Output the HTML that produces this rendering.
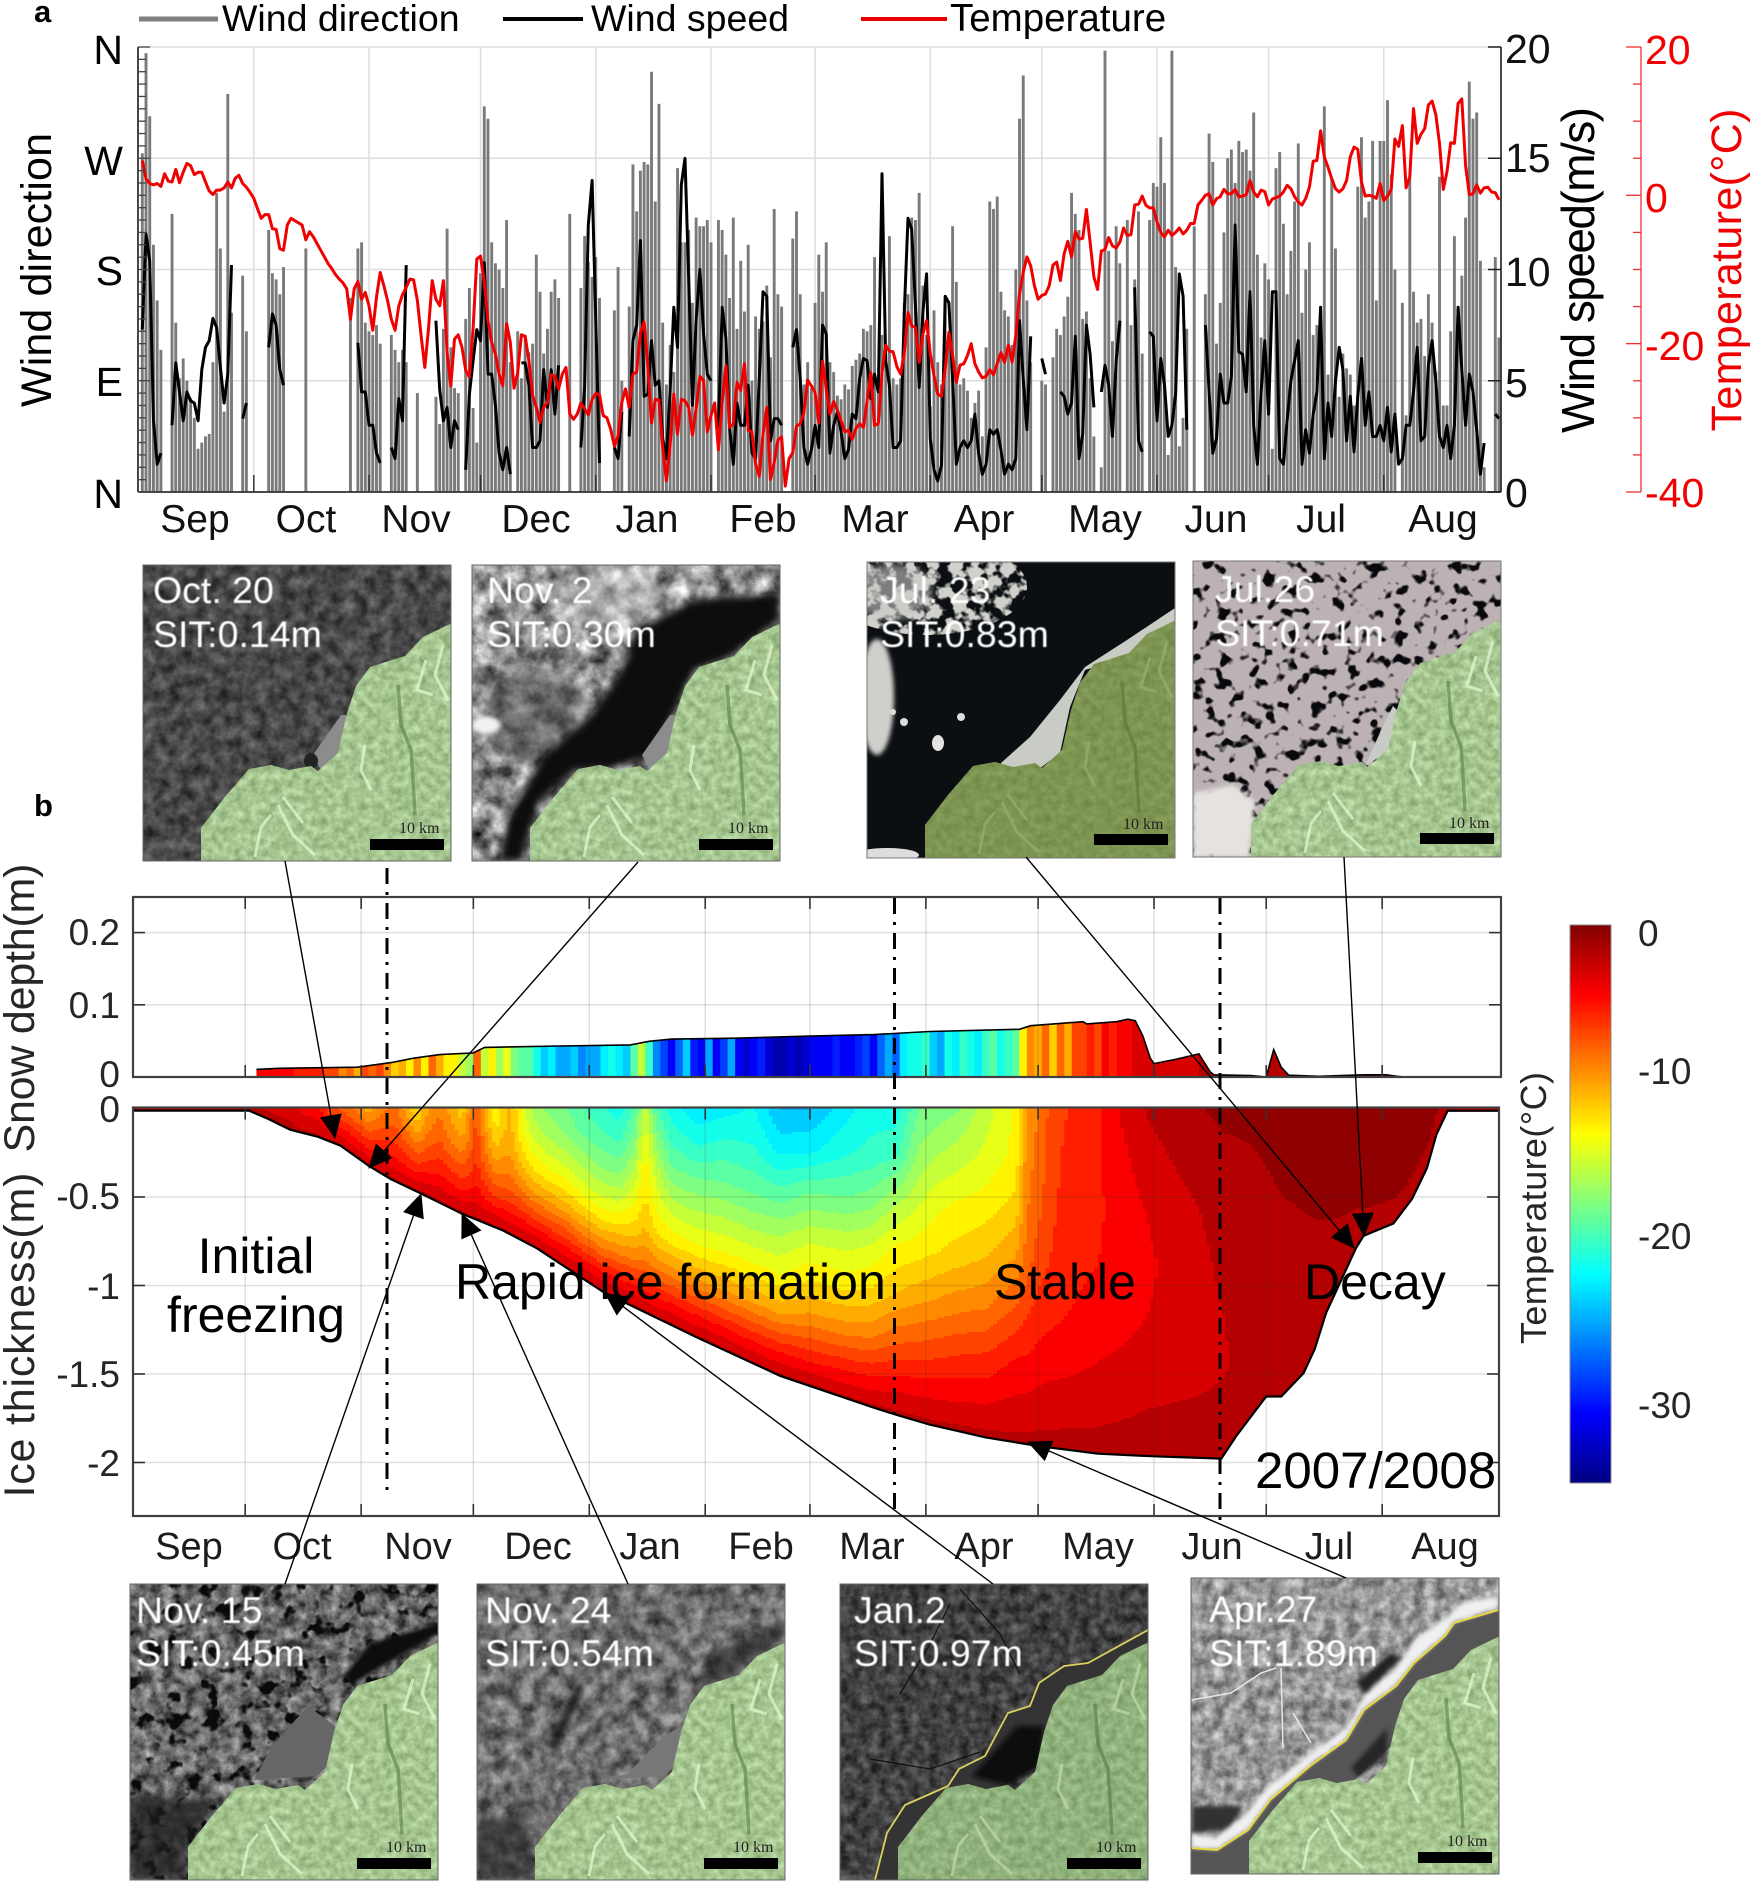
<!DOCTYPE html>
<html lang="en">
<head>
<meta charset="utf-8">
<title>Wind, temperature, snow depth and sea ice thickness 2007/2008</title>
<style>
html,body{margin:0;padding:0;background:#fff;width:1750px;height:1894px;overflow:hidden}
svg{display:block}
text{font-family:"Liberation Sans",sans-serif}
.lab{font-size:37.5px;fill:#fff;filter:url(#soft)}
.km{font-family:"Liberation Serif",serif;font-size:16px;fill:#222}
.mon{font-size:39px;fill:#111;text-anchor:middle}
.monb{font-size:38px;fill:#1c1c1c;text-anchor:middle}
.tk{font-size:41px;fill:#111}
.tkb{font-size:37px;fill:#262626;text-anchor:end}
.ann{font-size:50px;fill:#000}
</style>
</head>
<body>
<svg id="fig" xmlns="http://www.w3.org/2000/svg" width="1750" height="1894" viewBox="0 0 1750 1894">
<defs>
  <filter id="soft" x="-5%" y="-10%" width="110%" height="120%"><feGaussianBlur stdDeviation="0.45"/></filter>
  <filter id="b2" x="-30%" y="-30%" width="160%" height="160%"><feGaussianBlur stdDeviation="2"/></filter>
  <filter id="b5" x="-30%" y="-30%" width="160%" height="160%"><feGaussianBlur stdDeviation="4"/></filter>
  <filter id="b10" x="-40%" y="-40%" width="180%" height="180%"><feGaussianBlur stdDeviation="10"/></filter>
  <filter id="land-noise" x="0" y="0" width="100%" height="100%" color-interpolation-filters="sRGB"><feTurbulence type="fractalNoise" baseFrequency="0.13" numOctaves="3" seed="5"/><feColorMatrix type="matrix" values=".35 0 0 0 .475  .35 0 0 0 .6  .35 0 0 0 .39  0 0 0 0 1"/></filter>
  <filter id="t1" x="0" y="0" width="100%" height="100%" color-interpolation-filters="sRGB"><feTurbulence type="fractalNoise" baseFrequency="0.08" numOctaves="5" seed="2"/><feColorMatrix type="matrix" values=".45 0 0 0 .06  .45 0 0 0 .06  .45 0 0 0 .06  0 0 0 0 1"/></filter>
  <filter id="t2" x="0" y="0" width="100%" height="100%" color-interpolation-filters="sRGB"><feTurbulence type="fractalNoise" baseFrequency="0.05" numOctaves="5" seed="7"/><feColorMatrix type="matrix" values="1.3 0 0 0 -.08  1.3 0 0 0 -.08  1.3 0 0 0 -.08  0 0 0 0 1"/></filter>
  <filter id="t3" x="0" y="0" width="100%" height="100%" color-interpolation-filters="sRGB"><feTurbulence type="fractalNoise" baseFrequency="0.07" numOctaves="3" seed="21"/><feColorMatrix type="matrix" values="0 0 0 0 .82  0 0 0 0 .82  0 0 0 0 .8  7 0 0 0 -3"/></filter>
  <filter id="t4" x="0" y="0" width="100%" height="100%" color-interpolation-filters="sRGB"><feTurbulence type="fractalNoise" baseFrequency="0.085" numOctaves="2" seed="11"/><feColorMatrix type="matrix" values="0 0 0 0 .03  0 0 0 0 .03  0 0 0 0 .05  -8 0 0 0 3.55"/></filter>
  <filter id="t5" x="0" y="0" width="100%" height="100%" color-interpolation-filters="sRGB"><feTurbulence type="fractalNoise" baseFrequency="0.09" numOctaves="4" seed="4"/><feColorMatrix type="matrix" values=".8 0 0 0 .02  .8 0 0 0 .02  .8 0 0 0 .02  0 0 0 0 1"/></filter>
  <filter id="t5b" x="0" y="0" width="100%" height="100%" color-interpolation-filters="sRGB"><feTurbulence type="fractalNoise" baseFrequency="0.055" numOctaves="3" seed="8"/><feColorMatrix type="matrix" values="0 0 0 0 .04  0 0 0 0 .04  0 0 0 0 .04  -8 0 0 0 3.4"/></filter>
  <filter id="t6" x="0" y="0" width="100%" height="100%" color-interpolation-filters="sRGB"><feTurbulence type="fractalNoise" baseFrequency="0.07" numOctaves="5" seed="9"/><feColorMatrix type="matrix" values=".7 0 0 0 .08  .7 0 0 0 .08  .7 0 0 0 .08  0 0 0 0 1"/></filter>
  <filter id="t7" x="0" y="0" width="100%" height="100%" color-interpolation-filters="sRGB"><feTurbulence type="fractalNoise" baseFrequency="0.1" numOctaves="4" seed="13"/><feColorMatrix type="matrix" values=".45 0 0 0 .03  .45 0 0 0 .03  .45 0 0 0 .03  0 0 0 0 1"/></filter>
  <filter id="t8" x="0" y="0" width="100%" height="100%" color-interpolation-filters="sRGB"><feTurbulence type="fractalNoise" baseFrequency="0.09" numOctaves="4" seed="17"/><feColorMatrix type="matrix" values=".7 0 0 0 .24  .7 0 0 0 .24  .7 0 0 0 .24  0 0 0 0 1"/></filter>
  <clipPath id="img-clip"><rect width="308" height="296"/></clipPath>
  <clipPath id="land-clip"><polygon points="58,297 58,263 81,233 106,204 128,200 146,205 168,201 175,206 195,188 204,148 213,121 227,102 262,91 280,72 309,58 309,297"/></clipPath>
  <g id="land-art">
    <g clip-path="url(#land-clip)">
      <rect width="308" height="296" filter="url(#land-noise)"/>
      <g fill="none" stroke="#e2f6cc" stroke-width="3" opacity=".75">
        <polyline points="283,95 274,125 290,130"/><polyline points="300,80 292,110 305,135"/>
        <polyline points="222,180 218,205 228,225"/><polyline points="135,240 150,270 172,290"/>
        <polyline points="128,250 118,262 112,292"/><polyline points="140,232 160,258"/>
      </g>
      <g fill="none" stroke="#5f8a50" stroke-width="3.5" opacity=".7">
        <polyline points="255,120 258,160 268,185 270,215 272,250"/>
      </g>
    </g>
  </g>
  <linearGradient id="jet-gradient" x1="0" y1="0" x2="0" y2="1">
    <stop offset="0" stop-color="#800000"/><stop offset=".125" stop-color="#ff0000"/><stop offset=".375" stop-color="#ffff00"/><stop offset=".625" stop-color="#00ffff"/><stop offset=".875" stop-color="#0000ff"/><stop offset="1" stop-color="#000080"/>
  </linearGradient>
  <marker id="arrow-head" markerUnits="userSpaceOnUse" markerWidth="24" markerHeight="22" refX="23" refY="11" orient="auto"><path d="M0,0 L24,11 L0,22 Z" fill="#000"/></marker>
</defs>

<!-- panel labels and legend -->
<text x="34" y="22" font-size="31" font-weight="bold">a</text>
<text x="34" y="816" font-size="31" font-weight="bold">b</text>
<g>
  <line x1="139" y1="19" x2="218" y2="19" stroke="#808080" stroke-width="5"/>
  <text x="222" y="31" font-size="37.5">Wind direction</text>
  <line x1="503" y1="19" x2="583" y2="19" stroke="#000" stroke-width="4"/>
  <text x="591" y="31" font-size="37.5">Wind speed</text>
  <line x1="861" y1="19" x2="947" y2="19" stroke="#e60000" stroke-width="4"/>
  <text x="950" y="31" font-size="38.5">Temperature</text>
</g>

<!-- panel a chart layers -->
<g id="a-grid"></g>
<g id="a-bars"></g>
<path id="a-speed" fill="none" stroke="#000" stroke-width="3" stroke-linejoin="round"/>
<path id="a-temp" fill="none" stroke="#f00000" stroke-width="3" stroke-linejoin="round"/>
<g id="a-axes"></g>

<g text-anchor="end">
  <text x="123" y="64" font-size="41">N</text>
  <text x="123" y="175" font-size="41">W</text>
  <text x="123" y="285" font-size="41">S</text>
  <text x="123" y="396" font-size="41">E</text>
  <text x="123" y="508" font-size="41">N</text>
</g>
<text transform="translate(51,270) rotate(-90)" text-anchor="middle" font-size="43" textLength="274">Wind direction</text>
<g>
  <text class="tk" x="1505" y="63">20</text>
  <text class="tk" x="1505" y="172">15</text>
  <text class="tk" x="1505" y="286">10</text>
  <text class="tk" x="1505" y="397">5</text>
  <text class="tk" x="1505" y="507">0</text>
</g>
<text transform="translate(1594,270) rotate(-90)" text-anchor="middle" font-size="46" textLength="326">Wind speed(m/s)</text>
<g>
  <text class="tk" style="fill:#f00000" x="1645" y="64">20</text>
  <text class="tk" style="fill:#f00000" x="1645" y="212">0</text>
  <text class="tk" style="fill:#f00000" x="1645" y="360">-20</text>
  <text class="tk" style="fill:#f00000" x="1645" y="507">-40</text>
</g>
<text transform="translate(1741,270) rotate(-90)" text-anchor="middle" font-size="43" fill="#f00000" textLength="323">Temperature(°C)</text>
<g>
  <text class="mon" x="195" y="532">Sep</text>
  <text class="mon" x="306" y="532">Oct</text>
  <text class="mon" x="416" y="532">Nov</text>
  <text class="mon" x="536" y="532">Dec</text>
  <text class="mon" x="647" y="532">Jan</text>
  <text class="mon" x="763" y="532">Feb</text>
  <text class="mon" x="875" y="532">Mar</text>
  <text class="mon" x="984" y="532">Apr</text>
  <text class="mon" x="1105" y="532">May</text>
  <text class="mon" x="1216" y="532">Jun</text>
  <text class="mon" x="1321" y="532">Jul</text>
  <text class="mon" x="1443" y="532">Aug</text>
</g>

<!-- panel b chart layers -->
<g id="b-snow"></g>
<g id="b-ice"></g>
<g id="b-axes"></g>

<g>
  <text class="tkb" x="120" y="945">0.2</text>
  <text class="tkb" x="120" y="1018">0.1</text>
  <text class="tkb" x="120" y="1087">0</text>
</g>
<g>
  <text class="tkb" x="120" y="1122">0</text>
  <text class="tkb" x="120" y="1209">-0.5</text>
  <text class="tkb" x="120" y="1299">-1</text>
  <text class="tkb" x="120" y="1387">-1.5</text>
  <text class="tkb" x="120" y="1476">-2</text>
</g>
<text transform="translate(34,1008) rotate(-90)" text-anchor="middle" font-size="43" fill="#262626" textLength="289">Snow depth(m)</text>
<text transform="translate(34,1335) rotate(-90)" text-anchor="middle" font-size="43" fill="#262626" textLength="325">Ice thickness(m)</text>
<g>
  <text class="monb" x="189" y="1559">Sep</text>
  <text class="monb" x="302" y="1559">Oct</text>
  <text class="monb" x="418" y="1559">Nov</text>
  <text class="monb" x="538" y="1559">Dec</text>
  <text class="monb" x="650" y="1559">Jan</text>
  <text class="monb" x="761" y="1559">Feb</text>
  <text class="monb" x="872" y="1559">Mar</text>
  <text class="monb" x="984" y="1559">Apr</text>
  <text class="monb" x="1098" y="1559">May</text>
  <text class="monb" x="1212" y="1559">Jun</text>
  <text class="monb" x="1329" y="1559">Jul</text>
  <text class="monb" x="1445" y="1559">Aug</text>
</g>

<g stroke="#000" stroke-width="3" stroke-dasharray="16 8 3 8" fill="none">
  <line x1="387" y1="868" x2="387" y2="1497"/>
  <line x1="894.5" y1="898" x2="894.5" y2="1514"/>
  <line x1="1220" y1="898" x2="1220" y2="1520"/>
</g>

<g>
  <text class="ann" x="256" y="1273" text-anchor="middle">Initial</text>
  <text class="ann" x="256" y="1332" text-anchor="middle">freezing</text>
  <text class="ann" x="455" y="1299">Rapid ice formation</text>
  <text class="ann" x="994" y="1299">Stable</text>
  <text class="ann" x="1304" y="1299">Decay</text>
  <text class="ann" style="font-size:51px" x="1255" y="1488">2007/2008</text>
</g>

<!-- colour bar -->
<g>
  <rect x="1570" y="925" width="41" height="558" fill="url(#jet-gradient)" stroke="#8a8a8a" stroke-width="1"/>
  <text x="1638" y="946" font-size="37" fill="#262626">0</text>
  <text x="1638" y="1084" font-size="37" fill="#262626">-10</text>
  <text x="1638" y="1249" font-size="37" fill="#262626">-20</text>
  <text x="1638" y="1418" font-size="37" fill="#262626">-30</text>
  <text transform="translate(1546,1208) rotate(-90)" text-anchor="middle" font-size="36" fill="#262626" textLength="272">Temperature(°C)</text>
</g>

<!-- satellite images -->
<g transform="translate(143,565)">
  <g clip-path="url(#img-clip)">
    <rect width="308" height="296" filter="url(#t1)"/>
    <polygon points="178,205 170,190 198,150 205,150 198,188" fill="#8c8c8c"/>
    <ellipse cx="168" cy="196" rx="7" ry="8" fill="#222"/>
    <use href="#land-art"/>
    <rect x="227" y="274" width="74" height="11" fill="#000"/>
    <text class="km" x="256" y="268">10 km</text>
  </g>
  <rect width="308" height="296" fill="none" stroke="#666"/>
  <text class="lab" x="10" y="38">Oct. 20</text>
  <text class="lab" x="10" y="82">SIT:0.14m</text>
</g>
<g transform="translate(472,565)">
  <g clip-path="url(#img-clip)">
    <rect width="308" height="296" filter="url(#t2)"/>
    <ellipse cx="140" cy="30" rx="60" ry="28" fill="#d8d8d8" opacity=".45" filter="url(#b10)"/>
    <ellipse cx="60" cy="150" rx="55" ry="50" fill="#444" opacity=".5" filter="url(#b10)"/>
    <polygon points="161,68 219,35 308,28 308,55 259,92 223,105 201,152 179,192 134,205 103,205 67,238 49,297 27,297 36,252 71,192 121,148 152,102" fill="#0e0e0e" filter="url(#b5)"/>
    <ellipse cx="14" cy="160" rx="14" ry="9" fill="#f2f2f2" filter="url(#b2)"/>
    <polygon points="178,205 170,190 198,150 205,150 198,188" fill="#8c8c8c"/>
    <use href="#land-art"/>
    <rect x="227" y="274" width="74" height="11" fill="#000"/>
    <text class="km" x="256" y="268">10 km</text>
  </g>
  <rect width="308" height="296" fill="none" stroke="#666"/>
  <text class="lab" x="15" y="38">Nov. 2</text>
  <text class="lab" x="15" y="82">SIT:0.30m</text>
</g>
<g transform="translate(867,562)">
  <g clip-path="url(#img-clip)">
    <rect width="308" height="296" fill="#0b0f12"/>
    <clipPath id="cloud-clip"><ellipse cx="60" cy="25" rx="100" ry="48"/></clipPath>
    <g clip-path="url(#cloud-clip)"><rect width="170" height="80" filter="url(#t3)"/></g>
    <ellipse cx="25" cy="30" rx="40" ry="28" fill="#c8c8c4" opacity=".6" filter="url(#b5)"/>
    <ellipse cx="10" cy="135" rx="17" ry="58" fill="#cfcfcb" filter="url(#b2)"/>
    <ellipse cx="71" cy="181" rx="6" ry="8" fill="#e2e2de"/>
    <circle cx="37" cy="160" r="4" fill="#ddd"/><circle cx="94" cy="155" r="4" fill="#ddd"/><circle cx="26" cy="150" r="3" fill="#ddd"/>
    <ellipse cx="20" cy="293" rx="32" ry="7" fill="#ddd"/>
    <polygon points="134,201 163,175 193,138 218,105 260,78 308,46 308,60 260,95 218,108 203,145 193,191 172,207 134,207" fill="#c9cbc5"/>
    <use href="#land-art"/>
    <polygon points="58,297 58,263 81,233 106,204 128,200 146,205 168,201 175,206 195,188 204,148 213,121 227,102 262,91 280,72 309,58 309,297" fill="#5c6e1e" opacity=".55"/>
    <rect x="227" y="272" width="74" height="11" fill="#000"/>
    <text class="km" x="256" y="267">10 km</text>
  </g>
  <rect width="308" height="296" fill="none" stroke="#777"/>
  <text class="lab" x="13" y="41">Jul. 23</text>
  <text class="lab" x="13" y="85">SIT:0.83m</text>
</g>
<g transform="translate(1193,561)">
  <g clip-path="url(#img-clip)">
    <rect width="308" height="296" fill="#bcb2b4"/>
    <rect width="308" height="296" filter="url(#t4)"/>
    <polygon points="0,232 40,224 62,240 56,296 0,296" fill="#e6e2e0" filter="url(#b2)"/>
    <polygon points="172,205 190,165 200,145 205,150 196,190" fill="#c8cac6"/>
    <use href="#land-art"/>
    <rect x="227" y="272" width="74" height="11" fill="#000"/>
    <text class="km" x="256" y="267">10 km</text>
  </g>
  <rect width="308" height="296" fill="none" stroke="#777"/>
  <text class="lab" x="22" y="41">Jul.26</text>
  <text class="lab" x="22" y="85">SIT:0.71m</text>
</g>
<g transform="translate(130,1584)">
  <g clip-path="url(#img-clip)">
    <rect width="308" height="296" filter="url(#t5)"/>
    <rect width="308" height="296" filter="url(#t5b)"/>
    <polygon points="213,92 240,59 308,39 308,50 267,74 222,101" fill="#0a0a0a" filter="url(#b2)"/>
    <polygon points="0,209 88,216 57,262 57,296 0,296" fill="#1a1a1a" opacity=".75" filter="url(#b5)"/>
    <polygon points="124,196 187,192 205,175 205,142 178,122 142,162" fill="#666"/>
    <use href="#land-art"/>
    <rect x="227" y="274" width="74" height="11" fill="#000"/>
    <text class="km" x="256" y="268">10 km</text>
  </g>
  <rect width="308" height="296" fill="none" stroke="#666"/>
  <text class="lab" x="6" y="39">Nov. 15</text>
  <text class="lab" x="6" y="82">SIT:0.45m</text>
</g>
<g transform="translate(477,1584)">
  <g clip-path="url(#img-clip)">
    <rect width="308" height="296" filter="url(#t6)"/>
    <polygon points="230,70 308,35 308,52 262,88 224,104" fill="#222" opacity=".6" filter="url(#b5)"/>
    <polygon points="0,240 50,225 58,296 0,296" fill="#222" opacity=".6" filter="url(#b5)"/>
    <polygon points="70,160 100,100 108,102 78,170" fill="#111" opacity=".7" filter="url(#b2)"/>
    <polygon points="124,196 187,192 205,175 205,142 190,150 150,190" fill="#777"/>
    <use href="#land-art"/>
    <rect x="227" y="274" width="74" height="11" fill="#000"/>
    <text class="km" x="256" y="268">10 km</text>
  </g>
  <rect width="308" height="296" fill="none" stroke="#666"/>
  <text class="lab" x="8" y="39">Nov. 24</text>
  <text class="lab" x="8" y="82">SIT:0.54m</text>
</g>
<g transform="translate(840,1584)">
  <g clip-path="url(#img-clip)">
    <rect width="308" height="296" filter="url(#t7)"/>
    <polygon points="35,296 47,249 65,221 108,202 119,185 145,172 168,129 190,122 199,99 224,82 248,79 308,46 308,70 60,296" fill="#343434"/>
    <polygon points="168,202 199,182 204,142 177,142 132,192" fill="#0d0d0d" filter="url(#b2)"/>
    <g fill="none" stroke="#111" stroke-width="1.3"><polyline points="120,5 160,50 180,90"/><polyline points="60,110 90,60 110,20"/><polyline points="30,175 90,185 140,168"/></g>
    <use href="#land-art"/>
    <polygon points="58,297 58,263 81,233 106,204 128,200 146,205 168,201 175,206 195,188 204,148 213,121 227,102 262,91 280,72 309,58 309,297" fill="#3e6a34" opacity=".22"/>
    <polyline points="35,296 47,249 65,221 108,202 119,185 145,172 168,129 190,122 199,99 224,82 248,79 308,46" fill="none" stroke="#d9d060" stroke-width="1.8"/>
    <rect x="227" y="274" width="74" height="11" fill="#000"/>
    <text class="km" x="256" y="268">10 km</text>
  </g>
  <rect width="308" height="296" fill="none" stroke="#666"/>
  <text class="lab" x="14" y="39">Jan.2</text>
  <text class="lab" x="14" y="82">SIT:0.97m</text>
</g>
<g transform="translate(1191,1578)">
  <g clip-path="url(#img-clip)">
    <rect width="308" height="296" filter="url(#t8)"/>
    <polygon points="0,270 26,272 57,252 79,222 119,188 155,162 173,132 205,108 223,85 254,58 263,45 308,32 308,70 60,296 0,296" fill="#555"/>
    <polygon points="1,228 52,228 40,250 1,256" fill="#333" filter="url(#b2)"/>
    <polygon points="0,255 25,260 55,235 75,210 120,175 155,150 175,115 205,90 225,60 255,40 270,25 308,18 308,30 263,44 254,57 223,84 205,107 173,131 155,161 119,187 79,221 57,251 26,271 0,270" fill="#f0f0f0" filter="url(#b2)"/>
    <polygon points="165,105 200,75 210,80 175,115" fill="#222" filter="url(#b2)"/>
    <polygon points="168,200 196,175 196,150 160,190" fill="#262626" filter="url(#b2)"/>
    <g fill="none" stroke="#e8e8e8" stroke-width="1.5"><polyline points="0,122 40,115 70,95 85,90"/><polyline points="90,90 92,170"/><polyline points="102,135 120,165"/></g>
    <use href="#land-art"/>
    <polyline points="1,270 26,272 57,252 79,222 119,188 155,162 173,132 205,108 223,85 254,58 263,45 307,32" fill="none" stroke="#e8d840" stroke-width="2"/>
    <rect x="227" y="274" width="74" height="11" fill="#000"/>
    <text class="km" x="256" y="268">10 km</text>
  </g>
  <rect width="308" height="296" fill="none" stroke="#666"/>
  <text class="lab" x="18" y="44">Apr.27</text>
  <text class="lab" x="18" y="88">SIT:1.89m</text>
</g>

<!-- arrows from images to the ice bottom -->
<g stroke="#000" stroke-width="1.4" fill="none">
  <line x1="285" y1="861" x2="335" y2="1138" marker-end="url(#arrow-head)"/>
  <line x1="638" y1="862" x2="369" y2="1168" marker-end="url(#arrow-head)"/>
  <line x1="285" y1="1584" x2="421" y2="1194" marker-end="url(#arrow-head)"/>
  <line x1="628" y1="1584" x2="462" y2="1214" marker-end="url(#arrow-head)"/>
  <line x1="993" y1="1584" x2="605" y2="1293" marker-end="url(#arrow-head)"/>
  <line x1="1346" y1="1578" x2="1028" y2="1442" marker-end="url(#arrow-head)"/>
  <line x1="1026" y1="857" x2="1354" y2="1248" marker-end="url(#arrow-head)"/>
  <line x1="1344" y1="857" x2="1364" y2="1236" marker-end="url(#arrow-head)"/>
</g>
</svg>

<script>
// Wind direction in degrees per day from 1 Sep (0 = no observation)
var windDirection = [
274,355,304,200,155,115,0,0,225,137,
92,108,90,76,60,35,40,45,47,105,
242,197,65,322,145,0,0,175,130,0,
0,0,0,0,212,177,172,160,182,0,
0,0,0,0,197,0,0,0,0,0,
0,0,0,0,0,0,157,0,197,202,
137,130,127,135,120,0,0,127,115,105,
115,105,0,0,80,0,0,0,0,77,
55,132,213,117,84,80,0,140,165,68,
40,177,312,302,202,185,180,165,220,105,
0,130,92,127,113,120,192,162,112,132,
162,172,157,0,0,225,0,0,165,207,
186,174,190,157,0,0,0,147,182,90,
0,150,265,227,260,267,265,340,235,314,
137,87,119,97,262,202,202,212,153,222,
215,215,220,202,0,220,212,192,157,222,
132,187,146,200,90,142,132,138,167,109,
229,160,150,0,0,205,227,160,87,105,
84,153,192,162,202,105,97,78,75,87,
83,102,107,112,132,130,135,190,92,127,
120,207,92,87,92,153,160,222,220,242,
167,127,69,147,105,87,157,130,215,170,
87,92,82,60,72,82,45,117,235,229,
239,162,147,142,119,180,302,337,155,105,
0,0,90,87,0,109,132,127,142,158,
242,225,212,140,146,92,45,0,20,357,
195,122,215,185,0,220,135,172,227,112,
0,220,250,247,287,250,30,357,182,37,
60,132,0,215,0,0,160,290,267,120,
153,210,270,277,250,284,275,277,260,307,
192,125,185,172,35,262,275,217,160,195,
235,282,145,180,202,127,135,148,312,95,
254,197,77,112,100,95,70,247,287,222,
235,284,155,284,284,317,257,180,0,153,
62,255,162,137,140,110,160,137,97,255,
70,70,130,207,149,175,222,332,302,307,
187,20,0,0,190,125];

// Wind speed (m/s) per day; null = gap in the record
var windSpeed = [
7.3,11.6,10.4,3.2,1.25,1.75,null,null,3,5.8,
4.5,3.2,4.5,4.1,4,3.2,5.5,6.5,6.8,7.8,
7.4,5.6,4,5.3,10.2,null,null,3.3,4,null,
null,null,null,null,6.5,8,7.5,5.5,4.8,null,
null,null,null,null,null,null,null,null,null,null,
null,null,null,null,null,null,null,null,6.7,4.5,
4.5,3,3,1.75,1.3,null,null,2,1.5,4.2,
3.2,10.2,null,null,null,null,null,null,null,7.7,
4.6,3.2,3.8,2,3.2,2.8,null,1,4.4,5.9,
7.3,6.8,10.3,5.3,5.3,3.9,1.75,1,2,0.8,
null,null,5.8,5.8,4.8,2,2,2.3,5.5,3.8,
5.5,3.5,5.7,null,null,null,null,null,2,4.7,
12,14,7.7,1.3,null,null,null,2,1.5,3.6,
null,2.5,6.8,7.5,11.3,4.3,4.4,6.8,4.8,5,
2.4,1.5,4.5,8.3,6.5,13.8,15,9.6,3.9,7.7,
10,7.1,5.3,5,null,2.9,8.3,6.9,2.9,1.25,
4,3,3,4.8,1.75,1.5,5.1,9,8.8,2.3,
3.3,3.3,3,null,null,6.5,7.3,5.1,2,1.25,
1.9,3,2,7.5,7.1,1.75,3,3.6,2.7,1.5,
1.9,3.5,3.3,5.1,6,5.9,4.2,5.3,4.5,14.3,
5.9,4.8,2,2,2.3,8.1,12.3,11.8,8.4,4.7,
8.1,9.8,2.4,1,0.5,1.2,8.8,8.5,5.1,1.25,
2,2.3,2,2.3,3.5,1.75,0.8,1.25,2.8,2.6,
2.8,1.9,0.8,1.25,1,1.5,7.7,5.1,2.8,7,
null,null,6,5.3,null,null,null,4.5,4.3,3.5,
4,7,1.5,2.6,7.5,6.2,3.8,null,4.5,5.7,
4.8,2.5,5.9,7.7,null,null,null,9.2,2.3,1.8,
null,7.2,7,3.2,6,4.8,2.5,3,4.4,9.8,
8.8,2.8,null,null,null,null,7.5,4.5,1.75,2.4,
5.3,4,4,5.2,12,6.3,6.2,4.5,9,3,
1.25,4.5,6.8,3.5,9,9,1.5,1.25,3.2,5,
5.9,6.8,1.25,2.8,1.75,3.5,4.5,8.3,1.5,4,
2.5,5,6.5,5.5,2.3,4.3,1.8,4.3,6,3,
4.5,2.5,2.5,3,2.3,3.8,1.8,3.5,1.25,1.5,
3,3,4.5,6.5,2.3,2.5,5.7,6.8,5,2.5,
2,3,1.5,3,8.3,5.5,3,5.3,4.5,2.8,
0.8,2.2,null,null,3.5,3.3];

// Air temperature (°C) per day
var airTemperature = [
4.7,2.2,1.6,1.4,1.6,1.2,2.9,1.9,1.8,3.5,
1.7,3.1,4.3,4,2.8,3.1,3.1,1.8,0.6,0.1,
0.7,0.7,1,1.8,1,2.3,2.7,1.6,1.1,0.4,
-0.4,-1.8,-3.1,-2.6,-2.6,-4.5,-4.6,-7.2,-7.4,-4,
-3.1,-3.4,-3.7,-4,-6,-4.9,-5.6,-6.5,-7.4,-8.3,
-9.2,-9.9,-10.7,-11.3,-11.8,-12.6,-16.7,-12.6,-11.6,-14,
-13.1,-14.9,-18.2,-13.7,-10.4,-12.2,-14.2,-16.7,-18.2,-14.9,
-13.4,-12.4,-11.3,-11.4,-14.2,-18.9,-23.2,-18,-11.5,-14,
-14.9,-11.5,-21.2,-25.7,-19.4,-18.8,-20.5,-23.6,-24.5,-18,
-8.6,-8.2,-11.7,-16.9,-19.8,-21.4,-24.1,-25.7,-17.3,-19.8,
-26,-23.9,-18.8,-19,-22.3,-27,-28.6,-30.6,-28.6,-27.9,
-24.2,-24.4,-26.1,-24.1,-23.2,-29.5,-30.2,-29.5,-28,-28.8,
-29.6,-27.5,-26.7,-26.9,-29.7,-30,-31.5,-33.8,-32.4,-27.9,
-26.1,-28.6,-24.1,-23.8,-18.5,-17.1,-23,-30.7,-27.5,-27.6,
-34,-38.5,-33.8,-26.8,-32.2,-27.5,-27.7,-28.6,-32.3,-28.8,
-24.4,-25,-31.9,-29.7,-28,-34.3,-27.9,-23,-31.3,-30.8,
-25.2,-26.3,-22.7,-31.7,-31.9,-36.2,-37.9,-32.2,-28.6,-38.3,
-36,-33,-32.6,-39.2,-35.5,-34.7,-31.1,-30.8,-29.3,-24.9,
-25.7,-26.6,-30.7,-22.4,-26.1,-29.5,-27.8,-29,-30.4,-31.9,
-31.7,-32.9,-31.4,-30.8,-31.3,-27.7,-23.9,-31,-30.8,-23.9,
-20.2,-21,-21.1,-23.1,-24.1,-21.2,-15.8,-17.6,-17.8,-22.5,
-18.7,-16.9,-21.4,-24.3,-26.8,-27.1,-23.4,-18.5,-21.6,-25.2,
-22.9,-22.7,-21.6,-20,-22.7,-23.8,-24.6,-24.4,-23.5,-24.2,
-22.7,-21.2,-22.5,-20.2,-22.5,-18.9,-13.3,-10.4,-8.3,-9.5,
-12.2,-14,-13.5,-13.3,-12.2,-9.4,-9,-11.5,-7.9,-6.2,
-8.3,-4.9,-5.9,-5.8,-1.9,-6.3,-11,-12.7,-7.5,-7.3,
-5.7,-6.8,-7.1,-6.3,-4.4,-5.4,-5.3,-1.3,-1.2,-0.1,
-1.35,-1.7,-1.7,-3.6,-5,-5.6,-4.7,-5.4,-5,-4.4,
-5.2,-4.7,-3.8,-3.8,-1.3,-0.7,0,0.2,-1.3,-0.45,
-0.2,0.8,0.2,0.2,0.8,-0.2,-0.1,0.1,2,0.45,
-0.2,0.7,0.5,-1.3,-0.5,-0.3,-0.1,0.45,1.35,0.9,
-0.2,-0.9,-1.3,-0.4,1.1,4.6,4.7,8.7,5.2,3.8,
2.25,0.9,0.45,0.9,2,5.2,6.5,6.2,1.8,-0.1,
0,-0.1,-0.4,1.6,-0.7,-0.1,0.8,7.6,6.6,9.4,
1,2.5,11.7,7,8.2,9,12.2,12.7,10.9,7,
0.8,3.2,7.1,7,12.4,13,4,0.1,0.2,1.4,
0.3,1,1.1,0.45,0.35,-0.6];

// Day-of-season for each month boundary
var monthStartDays = [30,61,91,122,153,181,212,242,273,303,334];

// Snow depth (m)
var snowDays = [33,39,60,69,75,82,91,94,114,133,138,144,161,181,198,213,237,240,254,255,263,266,268,270,272,273,279,285,288,289,299,303,305,307,309,317,329,335,338,340];
var snowDepth = [0.0105,0.012,0.0136,0.02,0.026,0.031,0.0334,0.041,0.043,0.0445,0.0494,0.0525,0.0538,0.0568,0.0587,0.063,0.066,0.071,0.0766,0.0735,0.0766,0.08,0.078,0.057,0.026,0.0185,0.0247,0.032,0.0074,0.003,0.002,0,0.038,0.0136,0.0025,0.001,0.003,0.003,0.001,0];

// Snow temperature (°C) at two-day spacing
var snowTempStartDay = 33;
var snowTempStepDays = 2;
var snowTemps = [
-4,-4,-4,-4.5,-4.5,-5,-5,-5.5,-5,-6,
-7,-9,-8,-10,-7,-8,-7,-9,
-11,-10,-12,-9,-12,-8,-10,-13,-12,-15,-16,
-8,-15,-13,-16,-14,-17,-18,
-19,-21,-23,-22,-25,-24,-23,-26,-25,-24,-22,-21,-22,-23,
-19,-15,-20,-26,-28,
-30,-27,-23,-29,-30,-24,-31,-28,-24,-30,-32,-31,-29,-32,-33,-33,-32,-33,-32,
-31,-30,-31,-29,-30,-31,-29,-28,-30,-27,-24,-27,
-22,-21,-21,-20,-23,-25,
-21,-22,-20,-21,-22,-20,-19,-21,-20,-18,
-12,-9,-10,-8,-11,-8,-10,-7,
-7,-5,-6,-4.5,-5,-4,-4,-3.5,
-3,-2.5,-3,-3.5,-3,-3,-2.8,-2.5,-2,-2,
-1.5,-1.5,-1.5,-1.5,-1.5,-1.5,-1.5,-1.5,-1.5,-1.5,-1.5,-1.5];

// Ice thickness (m)
var iceDays = [0,30,31,36,42,49.5,55.5,63,69,77,88,99,108,126,151,173,198,204,213,228,242,258,273,291,295,300,303,307,313,316,319,327,329,337,342,346,348.5,351.5,365];
var iceThickness = [0.012,0.012,0.012,0.057,0.12,0.16,0.21,0.323,0.40,0.48,0.595,0.69,0.79,1.04,1.295,1.51,1.69,1.73,1.786,1.858,1.907,1.95,1.965,1.978,1.85,1.71,1.627,1.627,1.495,1.358,1.155,0.788,0.72,0.65,0.51,0.336,0.147,0.013,0.013];

// Ice temperature field (°C): one row per column day, values at iceTempDepths (fraction of thickness)
var iceTempDepths = [0,0.15,0.3,0.45,0.6,0.75,0.9,1];
var iceTempDays = [31,36,42,46,50,53,57,63,67,70,73,76,79,82,85,88,92,94,97,99,101,104,107,111,116,120,125,130,134,137,140,144,151,158,166,173,181,191,197,204,210,215,220,228,236,239,242,246,250,258,264,271,280,291,300,310,320,330,340,346,351];
var iceTemps = [
[-2,-2,-2,-2,-2,-2,-2,-2],
[-2.5,-2.4,-2.3,-2.2,-2.1,-2,-2,-2],
[-3,-2.9,-2.7,-2.5,-2.3,-2.2,-2,-1.9],
[-4,-3.7,-3.4,-3.1,-2.8,-2.5,-2.2,-2],
[-4.5,-4.2,-3.8,-3.4,-3,-2.6,-2.2,-2],
[-7,-6.4,-5.6,-4.8,-4,-3.2,-2.4,-2],
[-7.5,-7,-6,-5.2,-4.3,-3.4,-2.5,-2],
[-10,-9,-7.8,-6.6,-5.4,-4.2,-2.8,-2],
[-8.5,-8,-7,-6,-5,-4,-2.8,-2],
[-8,-7.5,-6.7,-5.9,-5,-4,-2.8,-2],
[-10,-9,-8,-7,-5.8,-4.5,-3,-2],
[-12,-11,-9.5,-8,-6.5,-4.8,-3,-2],
[-9.5,-9,-8,-7,-5.8,-4.4,-3,-2],
[-8.5,-8,-7.3,-6.4,-5.4,-4.2,-2.9,-2],
[-10,-9.4,-8.5,-7.4,-6,-4.6,-3,-2],
[-11.5,-10.5,-9.5,-8,-6.6,-5,-3.1,-2],
[-7,-6.8,-6.5,-6,-5.2,-4.2,-3,-2],
[-10,-9.4,-8.6,-7.6,-6.4,-5,-3.2,-2],
[-13,-12.2,-11,-9.4,-7.8,-5.8,-3.4,-2],
[-11.5,-11,-10.2,-9,-7.6,-5.8,-3.4,-2],
[-10.5,-10.5,-10,-9,-7.6,-5.8,-3.4,-2],
[-13.5,-13,-12,-10.5,-8.5,-6.2,-3.5,-2],
[-16,-15,-13.5,-11.8,-9.5,-6.8,-3.7,-2],
[-17,-16,-14.5,-12.5,-10,-7,-3.8,-2],
[-18,-17,-15.2,-13,-10.5,-7.2,-3.9,-2],
[-19,-18,-16,-14,-11.3,-8,-4,-2],
[-20,-18.8,-17,-14.8,-12,-8.4,-4.2,-2],
[-21,-19.5,-17.5,-15,-12,-8.5,-4.2,-2],
[-19,-17.5,-15.5,-13.5,-11.5,-8.5,-4.3,-2],
[-15,-13.5,-12.5,-11.8,-10.5,-8.2,-4.3,-2],
[-19,-17,-15,-13.5,-11.8,-8.8,-4.5,-2],
[-21,-19.5,-17.5,-15,-12.5,-9,-4.6,-2],
[-22.5,-20.5,-18,-15.5,-13,-9.3,-4.7,-2],
[-22,-20,-18,-15.5,-13,-9.5,-4.8,-2],
[-21.5,-20.3,-18.5,-16,-13.2,-9.8,-5,-2],
[-24,-22,-19,-16,-13.5,-10,-5,-2],
[-24,-21.8,-18,-15,-12.3,-9.2,-5,-2],
[-22,-20.5,-18,-15,-12.5,-9.2,-4.8,-2],
[-21,-20,-17.5,-14.5,-12,-8.8,-4.6,-2],
[-21,-19.5,-15.8,-13,-10.8,-7.5,-4,-2],
[-18,-16.5,-14.5,-12.5,-10,-7,-3.9,-2],
[-17.5,-15.5,-13.5,-12,-9.5,-6.6,-3.8,-2],
[-17,-15,-13,-11.5,-9,-6.2,-3.7,-2],
[-15,-14,-12.5,-10.8,-8.5,-5.8,-3.5,-2],
[-13,-12.8,-11.5,-9.5,-7,-4.7,-3.1,-2],
[-9,-9,-8.5,-7.8,-6.2,-4.6,-3,-2],
[-8.5,-8,-7.5,-6.6,-5.5,-4.3,-2.8,-2],
[-6.5,-6.3,-6.2,-5.8,-5.1,-4,-2.7,-2],
[-6,-5.7,-5.5,-5.2,-4.8,-3.9,-2.6,-2],
[-5,-5,-5,-4.8,-4.3,-3.5,-2.5,-2],
[-3.5,-4,-4.3,-4.3,-4,-3.3,-2.4,-1.9],
[-2.3,-3,-3.6,-3.8,-3.6,-3,-2.2,-1.8],
[-1.5,-2.2,-2.9,-3.2,-3.2,-2.8,-2.1,-1.8],
[-1,-1.5,-1.9,-2.2,-2.45,-2.45,-2.1,-1.8],
[-0.9,-1.25,-1.5,-1.8,-2.1,-2.2,-2,-1.8],
[-0.7,-0.8,-1.1,-1.5,-1.9,-2.1,-2,-1.8],
[-0.7,-0.7,-0.8,-1,-1.3,-1.8,-2,-1.8],
[-0.7,-0.7,-0.7,-0.8,-0.9,-1.1,-1.6,-1.8],
[-0.7,-0.7,-0.8,-0.9,-1,-1.15,-1.6,-1.8],
[-0.8,-0.8,-0.9,-1,-1.2,-1.5,-1.7,-1.8],
[-1.5,-1.6,-1.7,-1.8,-1.8,-1.8,-1.8,-1.8]];

var windTicks = [0,5,10,15,20];
var tempTicks = [20,15,10,5,0,-5,-10,-15,-20,-25,-30,-35,-40];
var snowTicks = [0.1,0.2];
var iceTicks = [-0.5,-1,-1.5,-2];

var NS = 'http://www.w3.org/2000/svg';
function svgEl(tag, attrs, parent){
  var el = document.createElementNS(NS, tag);
  for (var k in attrs) el.setAttribute(k, attrs[k]);
  parent.appendChild(el);
  return el;
}

// axis functions — panel a
function xA(day){ return 142.3 + 3.717 * day; }
function yDir(deg){ return 492 - deg * 445 / 360; }
function ySpeed(v){ return 492 - v * 445 / 20; }
function yTemp(t){ return 47 + (20 - t) * 445 / 60; }
// axis functions — panel b
function xB(day){ return 133 + 3.74 * day; }
function ySnow(m){ return 1077 - m * 722; }
function yIce(m){ return 1108.5 + m * 177; }

function lerp(xs, ys, x){
  if (x <= xs[0]) return ys[0];
  for (var i = 1; i < xs.length; i++){
    if (x <= xs[i]){
      var f = (x - xs[i-1]) / (xs[i] - xs[i-1]);
      return ys[i-1] + f * (ys[i] - ys[i-1]);
    }
  }
  return ys[ys.length - 1];
}
function clamp01(v){ return Math.max(0, Math.min(1, v)); }
var BAND = 1.2;
function bandOf(t){ return Math.floor(-t / BAND); }
function bandColor(b){
  var t = -(b + 0.5) * BAND;
  var f = clamp01(1 + t / 34.7);
  var r = clamp01(1.5 - Math.abs(4 * f - 3));
  var g = clamp01(1.5 - Math.abs(4 * f - 2));
  var bl = clamp01(1.5 - Math.abs(4 * f - 1));
  return 'rgb(' + Math.round(r * 255) + ',' + Math.round(g * 255) + ',' + Math.round(bl * 255) + ')';
}

// ---- panel a ----
var aGrid = document.getElementById('a-grid');
monthStartDays.forEach(function(d){
  var g = svgEl('line', {x1: xA(d), x2: xA(d), y1: 47, y2: 492, stroke: '#dddddd', 'stroke-width': 1.5}, aGrid);
  
  
});
windTicks.forEach(function(v){
  var g = svgEl('line', {x1: 138, x2: 1501, y1: ySpeed(v), y2: ySpeed(v), stroke: '#dddddd', 'stroke-width': 1.5}, aGrid);
  
  
});

var aBars = document.getElementById('a-bars');
windDirection.forEach(function(v, d){
  if (!v) return;
  var bar = svgEl('rect', {x: xA(d) - 1.45, y: yDir(v), width: 2.9, height: 492 - yDir(v), fill: '#7a7a7a'}, aBars);
  
  
});

function linePath(values, xf, yf){
  var d = '', pen = false;
  values.forEach(function(v, i){
    if (v === null){ pen = false; return; }
    d += (pen ? 'L' : 'M') + xf(i).toFixed(1) + ',' + yf(v).toFixed(1);
    pen = true;
  });
  return d;
}
document.getElementById('a-speed').setAttribute('d', linePath(windSpeed, xA, ySpeed));
document.getElementById('a-temp').setAttribute('d', linePath(airTemperature, xA, yTemp));

var aAxes = document.getElementById('a-axes');
[[138,47,138,492],[138,492,1501,492],[1501,47,1501,492]].forEach(function(p){
  var s = svgEl('line', {x1: p[0], y1: p[1], x2: p[2], y2: p[3], stroke: '#333', 'stroke-width': 1.8}, aAxes);
  
  
});
for (var tk = 0; tk <= 36; tk++){
  var dirY = yDir(tk * 10);
  var dt = svgEl('line', {x1: 138, x2: tk % 9 === 0 ? 150 : 146, y1: dirY, y2: dirY, stroke: '#444', 'stroke-width': 1.3}, aAxes);
  
  
}
monthStartDays.forEach(function(d){
  var mt = svgEl('line', {x1: xA(d), x2: xA(d), y1: 475, y2: 492, stroke: '#333', 'stroke-width': 1.5}, aAxes);
  
  
});
windTicks.forEach(function(v){
  var st = svgEl('line', {x1: 1488, x2: 1501, y1: ySpeed(v), y2: ySpeed(v), stroke: '#222', 'stroke-width': 1.5}, aAxes);
  
  
});
var redAxis = svgEl('line', {x1: 1641, x2: 1641, y1: 47, y2: 492, stroke: '#f03030', 'stroke-width': 1.3}, aAxes);


tempTicks.forEach(function(v){
  var rt = svgEl('line', {x1: v % 20 === 0 ? 1626 : 1633, x2: 1641, y1: yTemp(v), y2: yTemp(v), stroke: '#f03030', 'stroke-width': 1.3}, aAxes);
  
  
});

// ---- panel b : snow ----
var defs = document.querySelector('#fig defs');
function areaPath(days, vals, xf, yf, baseY){
  var d = 'M' + xf(days[0]).toFixed(1) + ',' + baseY;
  days.forEach(function(dd, i){ d += 'L' + xf(dd).toFixed(1) + ',' + yf(vals[i]).toFixed(1); });
  return d + 'L' + xf(days[days.length - 1]).toFixed(1) + ',' + baseY + 'Z';
}
var snowClip = svgEl('clipPath', {id: 'snow-clip'}, defs);
svgEl('path', {d: areaPath(snowDays, snowDepth, xB, ySnow, 1077)}, snowClip);
var bSnow = document.getElementById('b-snow');
var snowCols = svgEl('g', {'clip-path': 'url(#snow-clip)'}, bSnow);
for (var sd = snowTempStartDay; sd <= snowDays[snowDays.length - 1]; sd++){
  var si = Math.min(Math.floor((sd - snowTempStartDay) / snowTempStepDays), snowTemps.length - 1);
  var colTop = ySnow(Math.max(lerp(snowDays, snowDepth, sd), lerp(snowDays, snowDepth, sd + 1))) - 2;
  var col = svgEl('rect', {x: xB(sd), y: colTop, width: 4.04, height: 1077 - colTop, fill: bandColor(bandOf(snowTemps[si]))}, snowCols);
  
  
}
var snowEdge = svgEl('path', {d: linePath(snowDepth, function(i){ return xB(snowDays[i]); }, ySnow), fill: 'none', stroke: '#000', 'stroke-width': 1.6}, bSnow);



// ---- panel b : ice ----
var iceClip = svgEl('clipPath', {id: 'ice-clip'}, defs);
svgEl('path', {d: areaPath(iceDays, iceThickness, xB, yIce, 1108)}, iceClip);
var bIce = document.getElementById('b-ice');
var iceBase = svgEl('path', {d: areaPath(iceDays, iceThickness, xB, yIce, 1108), fill: '#b50000'}, bIce);


function iceTempAt(day, z){
  var profile = iceTempDepths.map(function(_, r){
    return lerp(iceTempDays, iceTemps.map(function(row){ return row[r]; }), day);
  });
  return lerp(iceTempDepths, profile, z);
}
var iceCols = svgEl('g', {'clip-path': 'url(#ice-clip)'}, bIce);
for (var id = 30; id <= 352; id++){
  var iceH = Math.max(lerp(iceDays, iceThickness, id), lerp(iceDays, iceThickness, id + 1));
  var yBottom = yIce(iceH);
  var yy = 1108, runStart = 1108;
  var curBand = bandOf(iceTempAt(id + 0.5, 0));
  while (yy < yBottom){
    yy += 2;
    var zFrac = Math.min(1, (yy - 1108.5) / (yBottom - 1108.5));
    var nb = bandOf(iceTempAt(id + 0.5, zFrac));
    if (nb !== curBand || yy >= yBottom){
      var cell = svgEl('rect', {x: xB(id), y: runStart, width: 4.04, height: yy - runStart + 0.4, fill: bandColor(curBand)}, iceCols);
      
      
      runStart = yy;
      curBand = nb;
    }
  }
}
var iceEdge = svgEl('path', {d: linePath(iceThickness, function(i){ return xB(iceDays[i]); }, yIce), fill: 'none', stroke: '#000', 'stroke-width': 2.2}, bIce);



// ---- panel b : axes and grid ----
var bAxes = document.getElementById('b-axes');
var panels = [[133,897,1501,1077],[133,1107.5,1499,1516]];
panels.forEach(function(p){
  monthStartDays.forEach(function(d){
    var gl = svgEl('line', {x1: xB(d), x2: xB(d), y1: p[1], y2: p[3], stroke: 'rgba(40,40,40,.14)', 'stroke-width': 1.5}, bAxes);
    
    
    var t1 = svgEl('line', {x1: xB(d), x2: xB(d), y1: p[1], y2: p[1] + 12, stroke: '#333', 'stroke-width': 1.6}, bAxes);
    
    
    var t2 = svgEl('line', {x1: xB(d), x2: xB(d), y1: p[3] - 12, y2: p[3], stroke: '#333', 'stroke-width': 1.6}, bAxes);
    
    
  });
});
function yGrid(y, x1, x2){
  var gl = svgEl('line', {x1: x1, x2: x2, y1: y, y2: y, stroke: 'rgba(40,40,40,.14)', 'stroke-width': 1.6}, bAxes);
  
  
  var l = svgEl('line', {x1: x1, x2: x1 + 12, y1: y, y2: y, stroke: '#333', 'stroke-width': 1.6}, bAxes);
  
  
  var r = svgEl('line', {x1: x2 - 12, x2: x2, y1: y, y2: y, stroke: '#333', 'stroke-width': 1.6}, bAxes);
  
  
}
snowTicks.forEach(function(v){ yGrid(ySnow(v), 133, 1501); });
iceTicks.forEach(function(v){ yGrid(yIce(-v), 133, 1499); });
panels.forEach(function(p){
  var fr = svgEl('rect', {x: p[0], y: p[1], width: p[2] - p[0], height: p[3] - p[1], fill: 'none', stroke: '#404040', 'stroke-width': 2.2}, bAxes);
  
  
});
</script>
</body>
</html>
